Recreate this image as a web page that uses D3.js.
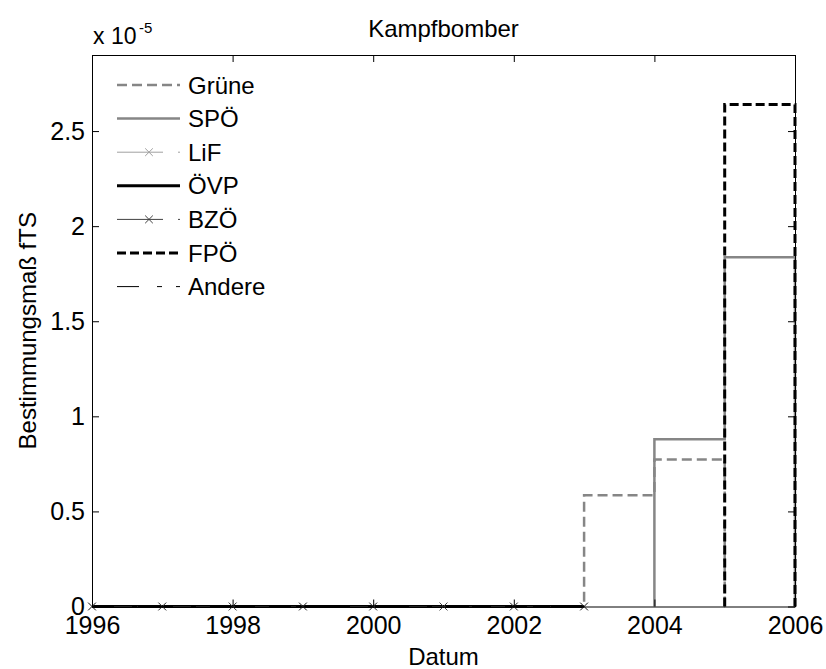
<!DOCTYPE html>
<html>
<head>
<meta charset="utf-8">
<script src="https://cdn.jsdelivr.net/npm/d3@7"></script>
<style>
  body { margin: 0; background: #fff; }
  svg text { font-family: "Liberation Sans", Arial, sans-serif; fill: #000; }
</style>
</head>
<body>
<div id="chart"></div>
<script>
// values are in units of 1e-5 (axis shows "x 10^-5")
const xTicks = [1996, 1998, 2000, 2002, 2004, 2006];
const yTicks = [0, 0.5, 1, 1.5, 2, 2.5];

const earlyYears = [1996, 1997, 1998, 1999, 2000, 2001, 2002, 2003];
const earlyZeros = [0, 0, 0, 0, 0, 0, 0, 0];

const grueneYears = [2002, 2003, 2004, 2005];
const grueneValues = [0, 0.585, 0.773, 0];

const spoeYears = [2004, 2004, 2005, 2006];
const spoeValues = [0, 0.88, 1.836, 0];

const fpoeYears = [2005, 2005, 2006];
const fpoeValues = [0, 2.64, 0];

const series = [
  { name: 'Grüne',  years: grueneYears, values: grueneValues, color: '#868686', width: 2.5, dash: '10,5' },
  { name: 'SPÖ',    years: spoeYears,   values: spoeValues,   color: '#868686', width: 2.5, dash: null },
  { name: 'LiF',    years: earlyYears,  values: earlyZeros,   color: '#a0a0a0', width: 1,   dash: '46,15,3,15', marker: true },
  { name: 'ÖVP',    years: earlyYears,  values: earlyZeros,   color: '#000',    width: 3,   dash: null },
  { name: 'BZÖ',    years: earlyYears,  values: earlyZeros,   color: '#404040', width: 1,   dash: '46,15,3,15', marker: true },
  { name: 'FPÖ',    years: fpoeYears,   values: fpoeValues,   color: '#000',    width: 3,   dash: '9,4' },
  { name: 'Andere', years: earlyYears,  values: earlyZeros,   color: '#000',    width: 1,   dash: '22,18,5,14' },
];

const width = 826, height = 669;
const margin = { top: 55, right: 31, bottom: 62.5, left: 92 };
const innerW = width - margin.left - margin.right;
const innerH = height - margin.top - margin.bottom;

const svg = d3.select('#chart').append('svg')
  .attr('width', width)
  .attr('height', height);

const g = svg.append('g').attr('transform', `translate(${margin.left},${margin.top})`);

const x = d3.scaleLinear().domain([1996, 2006]).range([0, innerW]);
const y = d3.scaleLinear().domain([0, 2.9]).range([innerH, 0]);

// series as stairs
const line = d3.line()
  .x(d => x(d[0]))
  .y(d => y(d[1]))
  .curve(d3.curveStepAfter);

series.forEach(s => {
  const pts = s.years.map((yr, i) => [yr, s.values[i]]);
  g.append('path')
    .datum(pts)
    .attr('fill', 'none')
    .attr('stroke', s.color)
    .attr('stroke-width', s.width)
    .attr('stroke-dasharray', s.dash)
    .attr('d', line);
  if (s.marker) {
    g.selectAll(null)
      .data(pts)
      .enter().append('path')
      .attr('d', d3.symbol(d3.symbolX, 40))
      .attr('transform', d => `translate(${x(d[0])},${y(d[1])})`)
      .attr('fill', 'none')
      .attr('stroke', s.color)
      .attr('stroke-width', 1);
  }
});

// axes box (drawn on top), ticks inside on all four sides
const xAxis = g.append('g')
  .attr('transform', `translate(0,${innerH})`)
  .call(d3.axisBottom(x).tickValues(xTicks).tickFormat(d3.format('d')).tickSizeInner(-7).tickSizeOuter(0).tickPadding(10));
const yAxis = g.append('g')
  .call(d3.axisLeft(y).tickValues(yTicks).tickFormat(d => String(d)).tickSizeInner(-7).tickSizeOuter(0).tickPadding(7));
g.append('g')
  .call(d3.axisTop(x).tickValues(xTicks).tickFormat('').tickSizeInner(-7).tickSizeOuter(0));
g.append('g')
  .attr('transform', `translate(${innerW},0)`)
  .call(d3.axisRight(y).tickValues(yTicks).tickFormat('').tickSizeInner(-7).tickSizeOuter(0));

g.selectAll('.domain').attr('stroke', '#000').attr('stroke-width', 1);
g.selectAll('.tick line').attr('stroke', '#000');
xAxis.selectAll('text').attr('font-size', 25).style('font-family', '"Liberation Sans", Arial, sans-serif');
yAxis.selectAll('text').attr('font-size', 25).style('font-family', '"Liberation Sans", Arial, sans-serif');

// title and labels
svg.append('text')
  .attr('x', margin.left + innerW / 2)
  .attr('y', 37)
  .attr('text-anchor', 'middle')
  .attr('font-size', 24)
  .text('Kampfbomber');

svg.append('text')
  .attr('x', margin.left + innerW / 2)
  .attr('y', 665)
  .attr('text-anchor', 'middle')
  .attr('font-size', 24)
  .text('Datum');

svg.append('text')
  .attr('transform', `translate(36,${margin.top + innerH / 2}) rotate(-90)`)
  .attr('text-anchor', 'middle')
  .attr('font-size', 24)
  .text('Bestimmungsmaß fTS');

const expo = svg.append('text')
  .attr('x', 93)
  .attr('y', 44)
  .attr('font-size', 23)
  .text('x 10');
svg.append('text')
  .attr('x', 139)
  .attr('y', 33)
  .attr('font-size', 15)
  .text('-5');

// legend (no box)
const legend = svg.append('g');
series.forEach((s, i) => {
  const ly = 85 + i * 33.6;
  legend.append('line')
    .attr('x1', 117).attr('x2', 180)
    .attr('y1', ly).attr('y2', ly)
    .attr('stroke', s.color)
    .attr('stroke-width', s.width)
    .attr('stroke-dasharray', s.dash);
  if (s.marker) {
    legend.append('path')
      .attr('d', d3.symbol(d3.symbolX, 40))
      .attr('transform', `translate(149,${ly})`)
      .attr('fill', 'none')
      .attr('stroke', s.color);
  }
  legend.append('text')
    .attr('x', 188)
    .attr('y', ly)
    .attr('dy', '0.36em')
    .attr('font-size', 24)
    .text(s.name);
});
</script>
</body>
</html>
